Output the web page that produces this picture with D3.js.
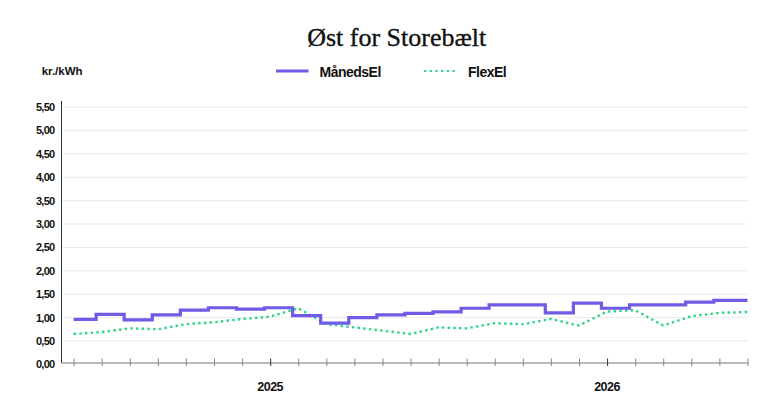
<!DOCTYPE html>
<html>
<head>
<meta charset="utf-8">
<script src="https://cdn.jsdelivr.net/npm/d3@7"></script>
<style>
  body { margin: 0; background: #fff; }
  svg { display: block; }
</style>
</head>
<body>
<div id="wrapper"></div>
<script>
// months on the x axis, Jun 2024 .. Jun 2026
const months = [
  "2024-06","2024-07","2024-08","2024-09","2024-10","2024-11","2024-12",
  "2025-01","2025-02","2025-03","2025-04","2025-05","2025-06","2025-07",
  "2025-08","2025-09","2025-10","2025-11","2025-12",
  "2026-01","2026-02","2026-03","2026-04","2026-05","2026-06"
];

// MånedsEl, one price per month (Jun 2024 .. May 2026)
const manedsEl = [
  0.96, 1.07, 0.95, 1.06, 1.16, 1.21, 1.18,
  1.21, 1.04, 0.88, 1.00, 1.06, 1.09, 1.12,
  1.20, 1.27, 1.27, 1.10, 1.31,
  1.20, 1.27, 1.27, 1.33, 1.37
];

// FlexEl, value at each month (Jun 2024 .. Jun 2026)
const flexEl = [
  0.65, 0.69, 0.77, 0.75, 0.86, 0.90, 0.97,
  1.02, 1.20, 0.86, 0.79, 0.72, 0.65, 0.79,
  0.77, 0.88, 0.86, 0.97, 0.83,
  1.13, 1.16, 0.83, 1.03, 1.10, 1.12
];

const yTicks = [0, 0.5, 1, 1.5, 2, 2.5, 3, 3.5, 4, 4.5, 5, 5.5];
const yearLabels = ["2025", "2026"];

const seriesNames = ["MånedsEl", "FlexEl"];
const colors = { maaned: "#6e5be6", flex: "#2bd486" };

const sans = "'Liberation Sans', Arial, sans-serif";

const drawChart = () => {

  // 1. dimensions
  let dimensions = {
    width: 782,
    height: 405,
    margin: { top: 100.5, right: 34, bottom: 42.5, left: 61 }
  };
  dimensions.boundedWidth = dimensions.width - dimensions.margin.left - dimensions.margin.right;
  dimensions.boundedHeight = dimensions.height - dimensions.margin.top - dimensions.margin.bottom;

  // 2. canvas
  const svg = d3.select("#wrapper")
    .append("svg")
    .attr("width", dimensions.width)
    .attr("height", dimensions.height);

  const bounds = svg.append("g")
    .attr("transform", `translate(${dimensions.margin.left},${dimensions.margin.top})`);

  // 3. scales
  const xScale = d3.scaleLinear()
    .domain([-0.45, months.length - 1 + 0.02])
    .range([0, dimensions.boundedWidth]);

  const yScale = d3.scaleLinear()
    .domain([0.04, 5.64])
    .range([dimensions.boundedHeight, 0]);

  // gridlines
  bounds.append("g")
    .selectAll("line")
    .data(yTicks.filter(d => d > 0))
    .join("line")
    .attr("x1", 0)
    .attr("x2", dimensions.boundedWidth)
    .attr("y1", d => yScale(d))
    .attr("y2", d => yScale(d))
    .attr("stroke", "#ebebeb")
    .attr("stroke-width", 1);

  // 4. lines
  const stepShift = 0.2;
  const stepPoints = manedsEl.map((v, i) => ({ i: i === 0 ? 0 : i - stepShift, v }));
  stepPoints.push({ i: months.length - 1, v: manedsEl[manedsEl.length - 1] });

  const stepLine = d3.line()
    .x(d => xScale(d.i))
    .y(d => yScale(d.v))
    .curve(d3.curveStepAfter);

  const flexLine = d3.line()
    .x((d, i) => xScale(i))
    .y(d => yScale(d));

  bounds.append("path")
    .datum(flexEl)
    .attr("d", flexLine)
    .attr("fill", "none")
    .attr("stroke", colors.flex)
    .attr("stroke-width", 2.4)
    .attr("stroke-dasharray", "2.4 3.3");

  bounds.append("path")
    .datum(stepPoints)
    .attr("d", stepLine)
    .attr("fill", "none")
    .attr("stroke", colors.maaned)
    .attr("stroke-width", 3.2);

  // 5. axes
  const yAxis = bounds.append("g")
    .call(d3.axisLeft(yScale)
      .tickValues(yTicks)
      .tickSize(0)
      .tickSizeOuter(0)
      .tickPadding(6.5)
      .tickFormat(d => d3.format(".2f")(d).replace(".", ",")));
  yAxis.select(".domain").attr("stroke", "#333");
  yAxis.selectAll("text")
    .attr("font-family", sans)
    .attr("font-size", 11)
    .attr("font-weight", "bold")
    .attr("letter-spacing", -0.7)
    .attr("fill", "#111");

  const xAxis = bounds.append("g")
    .attr("transform", `translate(0,${dimensions.boundedHeight})`)
    .call(d3.axisBottom(xScale)
      .tickValues(d3.range(months.length))
      .tickSize(3.5)
      .tickSizeOuter(0)
      .tickFormat(""));
  xAxis.select(".domain").attr("stroke", "#777");
  xAxis.selectAll(".tick line")
    .attr("y1", -4)
    .attr("stroke", (d) => months[d].endsWith("-01") ? "#333" : "#888");

  bounds.append("g")
    .selectAll("text")
    .data(yearLabels)
    .join("text")
    .attr("x", d => xScale(months.indexOf(d + "-01")))
    .attr("y", dimensions.boundedHeight + 28.5)
    .attr("text-anchor", "middle")
    .attr("font-family", sans)
    .attr("font-size", 12.5)
    .attr("font-weight", "bold")
    .attr("letter-spacing", -0.5)
    .attr("fill", "#111")
    .text(d => d);

  // 6. title, unit, legend
  svg.append("text")
    .attr("x", 396.7)
    .attr("y", 45.7)
    .attr("text-anchor", "middle")
    .attr("font-family", "'Liberation Serif', 'DejaVu Serif', serif")
    .attr("font-size", 26)
    .attr("fill", "#111")
    .attr("stroke", "#111")
    .attr("stroke-width", 0.35)
    .text("Øst for Storebælt");

  svg.append("text")
    .attr("x", 41.7)
    .attr("y", 75)
    .attr("font-family", sans)
    .attr("font-size", 11.5)
    .attr("font-weight", "bold")
    .attr("fill", "#111")
    .text("kr./kWh");

  const legend = svg.append("g").attr("transform", "translate(0,71)");

  legend.append("line")
    .attr("x1", 276).attr("x2", 308.5)
    .attr("stroke", colors.maaned)
    .attr("stroke-width", 3);
  legend.append("text")
    .attr("x", 319.5).attr("y", 5.5)
    .attr("font-family", sans)
    .attr("font-size", 14)
    .attr("font-weight", "bold")
    .attr("letter-spacing", -0.5)
    .attr("fill", "#111")
    .text(seriesNames[0]);

  legend.append("line")
    .attr("x1", 424).attr("x2", 458)
    .attr("stroke", colors.flex)
    .attr("stroke-width", 2.2)
    .attr("stroke-dasharray", "2.2 3.5");
  legend.append("text")
    .attr("x", 468).attr("y", 5.5)
    .attr("font-family", sans)
    .attr("font-size", 14)
    .attr("font-weight", "bold")
    .attr("letter-spacing", -0.5)
    .attr("fill", "#111")
    .text(seriesNames[1]);
};

drawChart();
</script>
</body>
</html>
